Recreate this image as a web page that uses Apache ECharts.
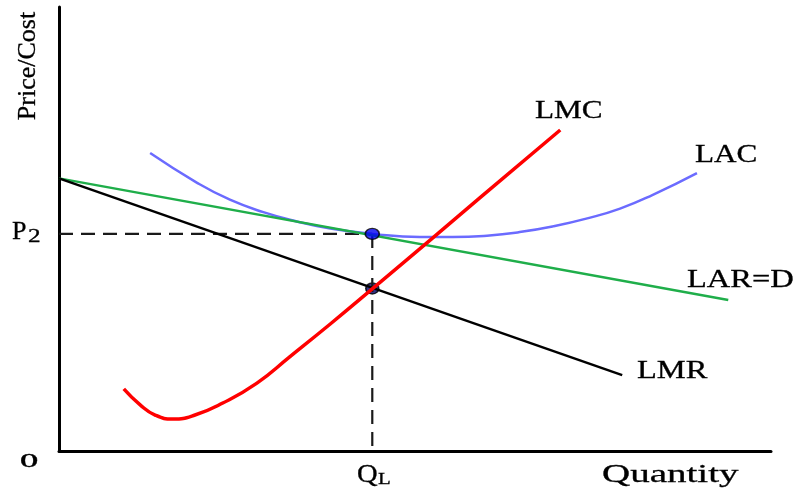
<!DOCTYPE html>
<html>
<head>
<meta charset="utf-8">
<title>LMC LAC</title>
<script src="https://cdn.jsdelivr.net/npm/echarts@6/dist/echarts.min.js"></script>
<style>
    html, body { margin: 0; padding: 0; background: #fff; }
    #main { width: 798px; height: 490px; }
</style>
</head>
<body>
<div id="main"></div>
<script>
//数据 (坐标 0-100)
var qL = 44.0;
var p2 = 48.9;

//LAR=D 直线
var larX = [0, 94.0];
var larY = [61.4, 34.0];

//LMR 直线
var lmrX = [0, 79.1];
var lmrY = [61.4, 17.1];

//LAC 曲线
var lacX = [12.8, 19.4, 24.0, 28.7, 33.4, 38.1, 44.0, 50.7, 55.3, 60.1, 64.7, 69.4, 74.2, 78.8, 83.4, 89.6];
var lacY = [67.1, 60.4, 56.6, 53.8, 51.7, 50.1, 48.9, 48.2, 48.2, 48.5, 49.3, 50.6, 52.4, 54.6, 57.7, 62.6];

//LMC 曲线
var lmcX = [9.1, 11.4, 13.5, 16.0, 19.1, 23.0, 27.8, 32.4, 38.1, 44.0, 52.5, 59.1, 70.4];
var lmcY = [14.0, 10.4, 8.1, 7.2, 8.1, 10.8, 15.3, 21.2, 28.6, 36.5, 48.0, 57.0, 72.3];

//LMR 与 LMC 交点
var lmrAtQ = 36.6;

function zip(xs, ys) {
    return xs.map(function (x, i) { return [x, ys[i]]; });
}

var serif = '"Liberation Serif", "DejaVu Serif", serif';

//文字
function label(text, x, y, size, sx, extra) {
    return {
        type: 'text',
        x: x,
        y: y,
        scaleX: sx,
        style: {
            text: text,
            fill: '#000',
            stroke: '#000',
            lineWidth: 0.3,
            font: (extra || '') + ' ' + size + 'px ' + serif,
            textAlign: 'left',
            textVerticalAlign: 'middle'
        },
        z: 10
    };
}

var chart = echarts.init(document.getElementById('main'));

var axisCommon = {
    type: 'value',
    min: 0,
    max: 100,
    axisLine: { show: true, onZero: false, lineStyle: { color: '#000', width: 3 } },
    axisTick: { show: false },
    axisLabel: { show: false },
    splitLine: { show: false }
};

var option = {
    animation: false,
    backgroundColor: '#fff',
    grid: { left: 59, top: 7, right: 27, bottom: 39 },
    xAxis: axisCommon,
    yAxis: axisCommon,
    series: [
        {
            //虚线
            type: 'line',
            data: [[0, p2], [qL, p2]],
            symbol: 'none',
            lineStyle: { color: '#1a1a1a', width: 2.2, type: [14, 8] }
        },
        {
            type: 'line',
            data: [[qL, p2], [qL, 0]],
            symbol: 'none',
            lineStyle: { color: '#1a1a1a', width: 2.2, type: [14, 8] }
        },
        {
            name: 'LAC',
            type: 'line',
            data: zip(lacX, lacY),
            smooth: 0.5,
            symbol: 'none',
            lineStyle: { color: '#6b6bff', width: 2.5 }
        },
        {
            name: 'LAR=D',
            type: 'line',
            data: zip(larX, larY),
            symbol: 'none',
            lineStyle: { color: '#1fae4a', width: 2.5 }
        },
        {
            name: 'LMR',
            type: 'line',
            data: zip(lmrX, lmrY),
            symbol: 'none',
            lineStyle: { color: '#000', width: 2.5 }
        },
        {
            name: 'LMC',
            type: 'line',
            data: zip(lmcX, lmcY),
            smooth: 0.5,
            symbol: 'none',
            lineStyle: { color: '#ff0000', width: 3.5 }
        },
        {
            type: 'scatter',
            data: [[qL, p2]],
            symbol: 'circle',
            symbolSize: [14, 11],
            itemStyle: { color: '#0000f0', borderColor: '#000', borderWidth: 1.5 },
            z: 5
        },
        {
            type: 'scatter',
            data: [[qL, lmrAtQ]],
            symbol: 'circle',
            symbolSize: [13, 11],
            itemStyle: { color: '#000066', borderColor: '#000', borderWidth: 1.5 },
            z: 1
        }
    ],
    graphic: [
        label('LMC', 535, 111, 26, 1.2),
        label('LAC', 695, 155, 26, 1.2),
        label('LAR=D', 687, 280, 26, 1.25),
        label('LMR', 637, 371, 26, 1.25),
        label('Quantity', 602, 475, 26, 1.5),
        label('Q', 357, 475, 26, 1.1),
        label('L', 378, 480, 16, 1.3),
        label('P', 12, 232, 26, 1.0),
        label('2', 28, 237, 18, 1.4),
        label('O', 20, 462, 18, 1.3, 'bold'),
        {
            type: 'text',
            x: 28,
            y: 66,
            rotation: Math.PI / 2,
            style: {
                text: 'Price/Cost',
                fill: '#000',
                stroke: '#000',
                lineWidth: 0.3,
                font: '26px ' + serif,
                textAlign: 'center',
                textVerticalAlign: 'middle'
            },
            z: 10
        }
    ]
};

chart.setOption(option);
</script>
</body>
</html>
